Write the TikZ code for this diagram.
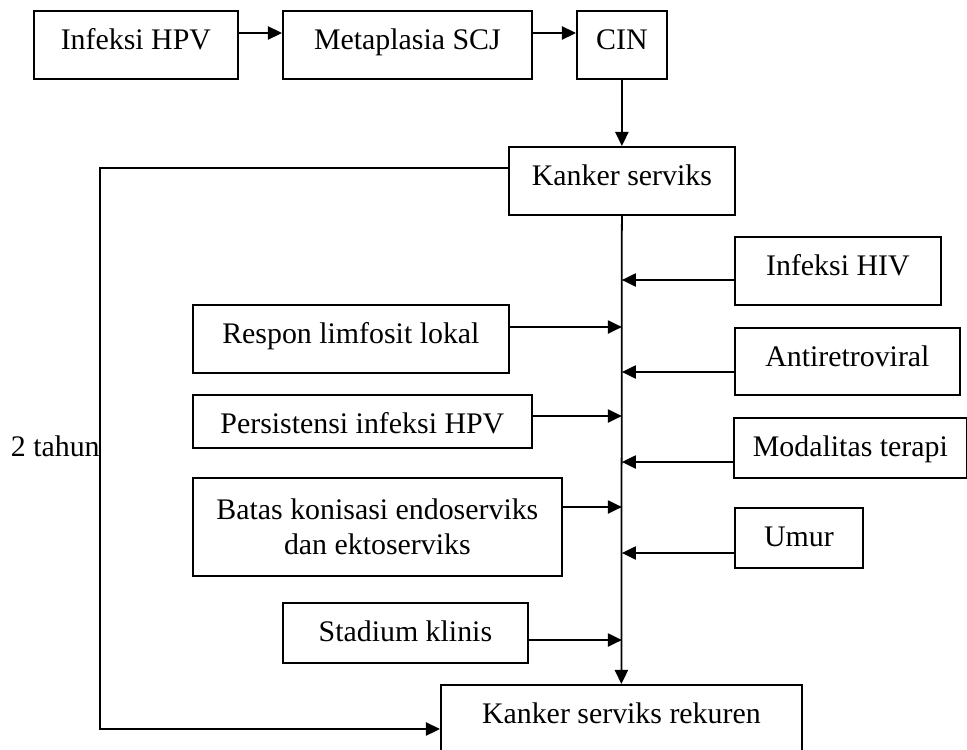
\documentclass[tikz,border=0pt]{standalone}
\usepackage{fontspec}
\setmainfont{Liberation Serif}
\usepackage{tikz}
\usetikzlibrary{arrows.meta}
\tikzset{>={Triangle[length=8pt,width=7.5pt]}}
\tikzset{
  kotak/.style={draw, line width=1pt, inner sep=0pt, anchor=north west,
    font=\fontsize{17}{19.9}\selectfont},
  baris/.style={text height=0.77cm, text depth=#1},
  garis/.style={line width=1pt},
}

\begin{document}
\begin{tikzpicture}
        \useasboundingbox (0,0) rectangle (19.34,-14.98);
        \clip (0,0) rectangle (19.34,-14.98);

        % Top row
        \node[kotak, baris=0.59cm, minimum width=4.08cm] (hpv) at (0.66,-0.20) {Infeksi HPV};
        \node[kotak, baris=0.59cm, minimum width=4.98cm] (scj) at (5.64,-0.20) {Metaplasia SCJ};
        \node[kotak, baris=0.59cm, minimum width=1.80cm] (cin) at (11.52,-0.20) {CIN};
        \node[kotak, baris=0.59cm, minimum width=4.52cm] (kanker) at (10.16,-2.92) {Kanker serviks};

        % Left factors
        \node[kotak, baris=0.59cm, minimum width=6.32cm] (respon) at (3.84,-6.08) {Respon limfosit lokal};
        \node[kotak, baris=0.29cm, minimum width=6.78cm] (persist) at (3.84,-7.88) {Persistensi infeksi HPV};
        \node[kotak, minimum width=7.38cm, minimum height=1.96cm, align=center] (batas) at (3.84,-9.54) {Batas konisasi endoserviks\\dan ektoserviks};
        \node[kotak, baris=0.43cm, minimum width=4.90cm] (stadium) at (5.64,-12.04) {Stadium klinis};

        % Right factors
        \node[kotak, baris=0.59cm, minimum width=4.12cm] (hiv) at (14.68,-4.72) {Infeksi HIV};
        \node[kotak, baris=0.57cm, minimum width=4.50cm] (arv) at (14.68,-6.54) {Antiretroviral};
        \node[kotak, baris=0.43cm, minimum width=4.66cm] (modal) at (14.66,-8.34) {Modalitas terapi};
        \node[kotak, baris=0.43cm, minimum width=2.56cm] (umur) at (14.68,-10.14) {Umur};

        % Outcome
        \node[kotak, baris=0.59cm, minimum width=7.22cm] (rekuren) at (8.80,-13.68) {Kanker serviks rekuren};
        \node[anchor=base east, inner sep=0pt, font=\fontsize{17}{19.9}\selectfont] (lama) at (2.00,-9.12) {2 tahun};

        % Arrows
        \draw[garis, ->] (hpv.east |- 0,-0.66) -- (scj.west |- 0,-0.66);
        \draw[garis, ->] (scj.east |- 0,-0.66) -- (cin.west |- 0,-0.66);
        \draw[garis, ->] (cin.south) -- (kanker.north);
        \draw[garis, ->] (kanker.south) -- (rekuren.north);
        \draw[garis, ->] (hiv.west |- 0,-5.60) -- (kanker.south |- 0,-5.60);
        \draw[garis, ->] (arv.west |- 0,-7.44) -- (kanker.south |- 0,-7.44);
        \draw[garis, ->] (modal.west |- 0,-9.24) -- (kanker.south |- 0,-9.24);
        \draw[garis, ->] (umur.west |- 0,-11.06) -- (kanker.south |- 0,-11.06);
        \draw[garis, ->] (respon.east |- 0,-6.54) -- (kanker.south |- 0,-6.54);
        \draw[garis, ->] (persist.east |- 0,-8.32) -- (kanker.south |- 0,-8.32);
        \draw[garis, ->] (batas.east |- 0,-10.14) -- (kanker.south |- 0,-10.14);
        \draw[garis, ->] (stadium.east |- 0,-12.80) -- (kanker.south |- 0,-12.80);
        \draw[garis, ->] (kanker.west |- 0,-3.36) -| (lama.east |- 0,-14.58) -- (rekuren.west |- 0,-14.58);
\end{tikzpicture}
\end{document}
